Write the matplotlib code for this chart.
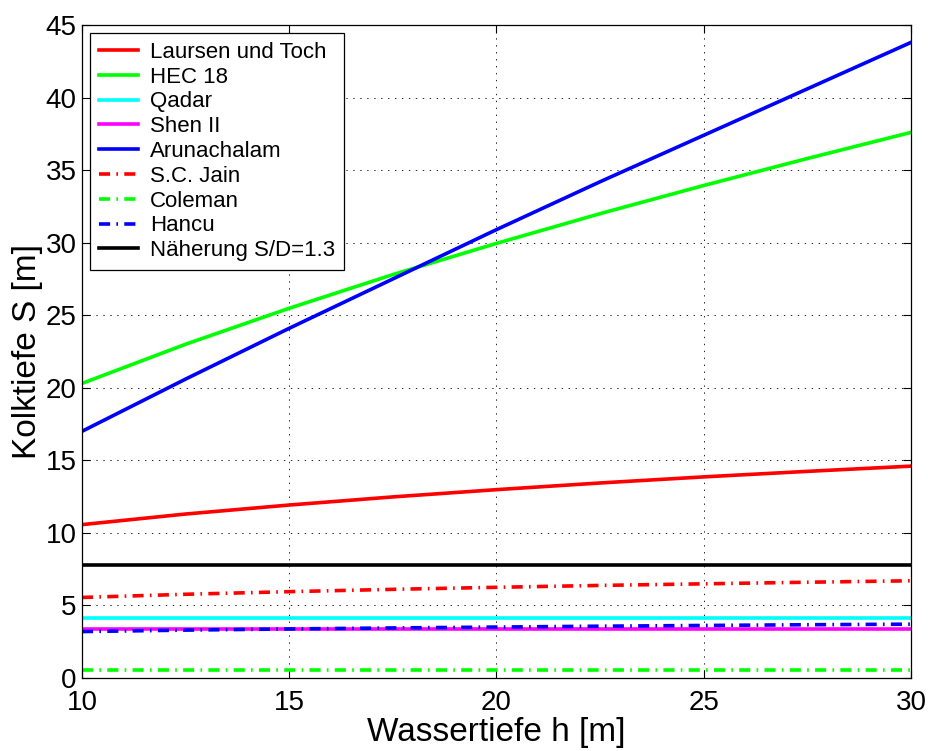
import matplotlib
matplotlib.use("Agg")
import matplotlib.pyplot as plt

plt.rcParams["font.family"] = ["Liberation Sans", "DejaVu Sans"]
plt.rcParams["lines.scale_dashes"] = False

# Wassertiefe h [m]
h = [10, 12.5, 15, 17.5, 20, 22.5, 25, 27.5, 30]

# Kolktiefe S [m] nach verschiedenen Ansaetzen
laursen = [10.57, 11.3, 11.92, 12.48, 12.98, 13.44, 13.86, 14.24, 14.6]
hec18 = [20.3, 23.0, 25.48, 27.8, 29.95, 32.0, 33.94, 35.8, 37.6]
qadar = [4.16, 4.16, 4.16, 4.16, 4.16, 4.16, 4.16, 4.16, 4.16]
shen2 = [3.37, 3.37, 3.37, 3.37, 3.37, 3.37, 3.37, 3.37, 3.37]
arunachalam = [17.0, 20.6, 24.1, 27.5, 30.9, 34.2, 37.4, 40.6, 43.8]
sc_jain = [5.55, 5.77, 5.95, 6.11, 6.25, 6.38, 6.49, 6.6, 6.7]
coleman = [0.55, 0.55, 0.55, 0.55, 0.55, 0.55, 0.55, 0.55, 0.55]
hancu = [3.2, 3.3, 3.38, 3.45, 3.51, 3.57, 3.62, 3.67, 3.71]
naeherung = [7.8, 7.8, 7.8, 7.8, 7.8, 7.8, 7.8, 7.8, 7.8]

series = [
    ("Laursen und Toch", laursen, "#ff0000", "-"),
    ("HEC 18", hec18, "#00ff00", "-"),
    ("Qadar", qadar, "#00ffff", "-"),
    ("Shen II", shen2, "#ff00ff", "-"),
    ("Arunachalam", arunachalam, "#0000ff", "-"),
    ("S.C. Jain", sc_jain, "#ff0000", "-."),
    ("Coleman", coleman, "#00ff00", "-."),
    ("Hancu", hancu, "#0000ff", "-."),
    ("Näherung S/D=1.3", naeherung, "#000000", "-"),
]

fig = plt.figure(figsize=(9.29, 7.51), dpi=100)
ax = fig.add_axes([82 / 929, 1 - 678 / 751, (911 - 82) / 929, (678 - 25) / 751])

for label, values, color, style in series:
    line, = ax.plot(h, values, color=color, linewidth=2.6, label=label)
    if style == "-.":
        line.set_dashes((8, 4.5, 1.2, 4.5))

ax.set_xlim(10, 30)
ax.set_ylim(0, 45)
ax.set_xticks([10, 15, 20, 25, 30])
ax.set_yticks(range(0, 46, 5))
ax.grid(True, color="black", linestyle=(0, (1, 4)), linewidth=0.6)
ax.tick_params(direction="in", top=True, right=True, labelsize=20, length=6, width=0.8)
ax.tick_params(axis="x", pad=9)
ax.tick_params(axis="y", pad=4)
for spine in ax.spines.values():
    spine.set_linewidth(0.9)

ax.set_xlabel("Wassertiefe h [m]", fontsize=24, labelpad=0)
ax.set_ylabel("Kolktiefe S [m]", fontsize=24, labelpad=2)

leg = ax.legend(loc="upper left", fontsize=16, fancybox=False, framealpha=1,
                edgecolor="black", handlelength=1.75, labelspacing=0.17,
                borderaxespad=0.36, handletextpad=0.55, borderpad=0.4)
leg.get_frame().set_linewidth(0.9)

fig.savefig("out.png", dpi=100)
